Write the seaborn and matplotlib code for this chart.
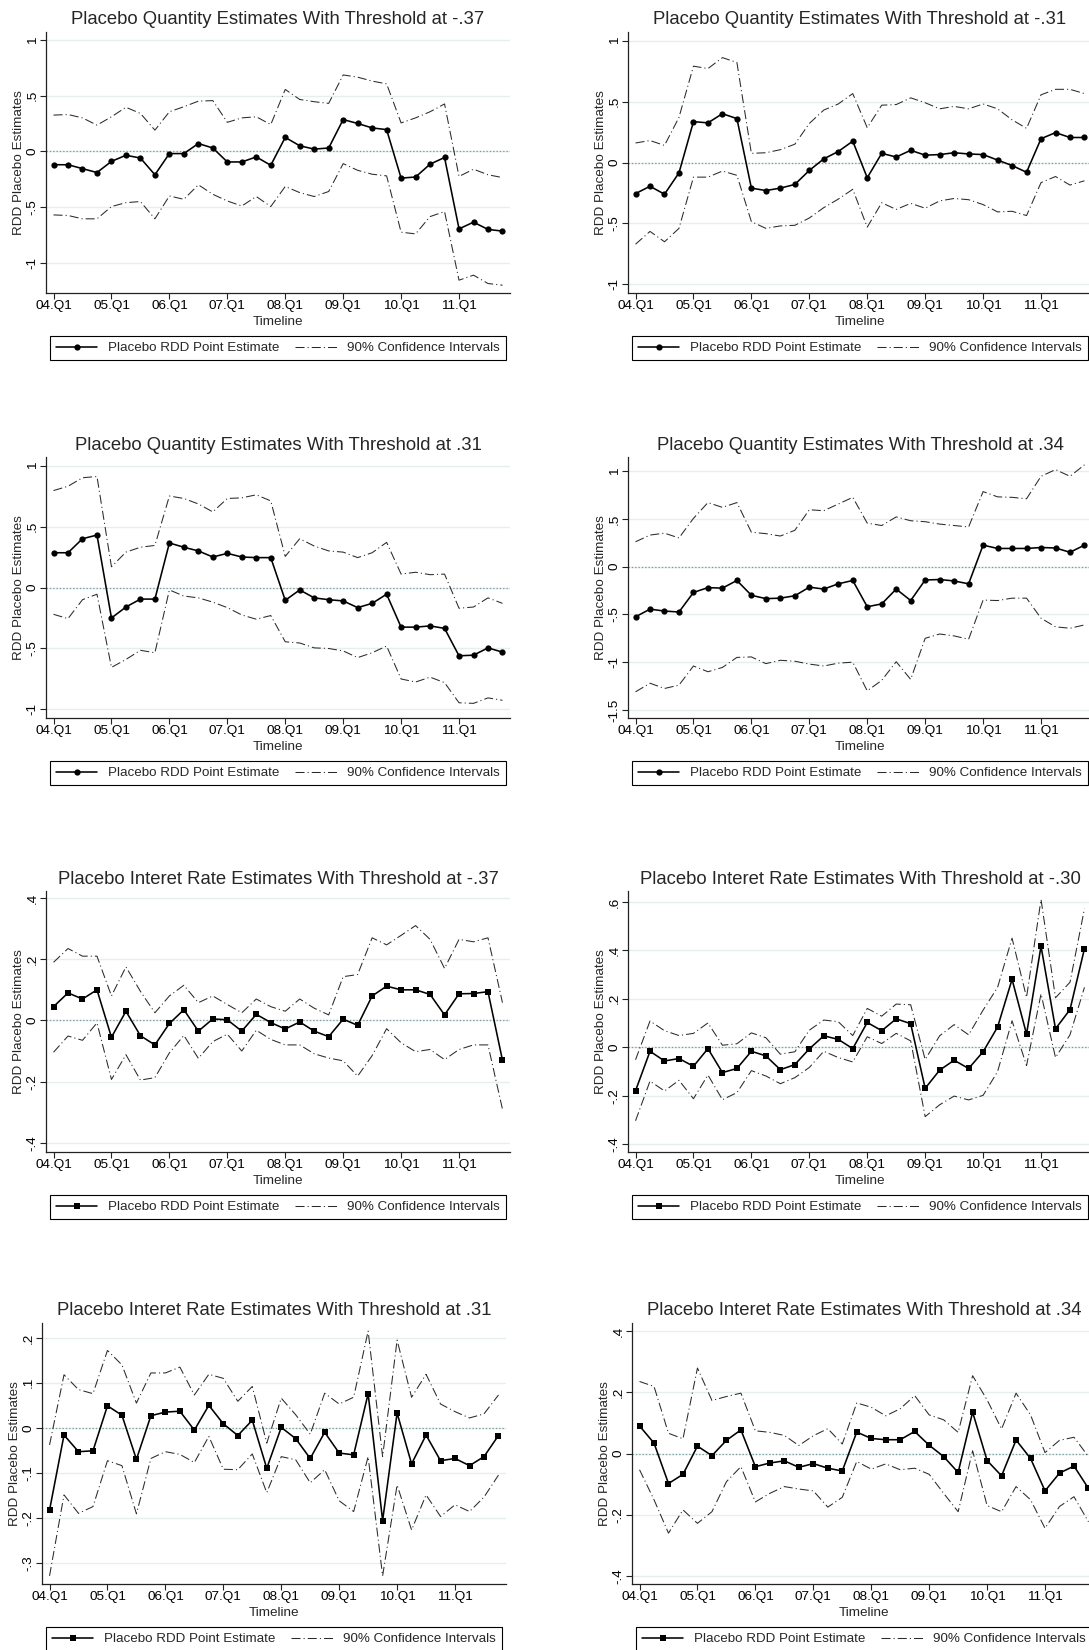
import numpy as np
import pandas as pd
import matplotlib
matplotlib.use("Agg")
import matplotlib.pyplot as plt
from matplotlib.lines import Line2D
import seaborn as sns

# ---------------------------------------------------------------------------
# Data: quarterly placebo RDD estimates, 2004Q1 - 2011Q4 (32 quarters)
# ---------------------------------------------------------------------------
year_tick_labels = ["04.Q1", "05.Q1", "06.Q1", "07.Q1", "08.Q1", "09.Q1", "10.Q1", "11.Q1"]

# Quantity, threshold -.37
qty_m37_est = [-0.12, -0.12, -0.155, -0.19, -0.09, -0.035, -0.06, -0.21, -0.02, -0.02, 0.07, 0.03,
               -0.095, -0.095, -0.05, -0.125, 0.125, 0.05, 0.02, 0.03, 0.285, 0.25, 0.21, 0.195,
               -0.24, -0.23, -0.115, -0.055, -0.695, -0.635, -0.70, -0.715]
qty_m37_hi = [0.325, 0.33, 0.30, 0.235, 0.31, 0.395, 0.34, 0.19, 0.355, 0.40, 0.45, 0.455,
              0.26, 0.30, 0.31, 0.24, 0.555, 0.465, 0.445, 0.43, 0.685, 0.665, 0.63, 0.605,
              0.255, 0.30, 0.355, 0.425, -0.225, -0.16, -0.21, -0.235]
qty_m37_lo = [-0.57, -0.575, -0.605, -0.605, -0.495, -0.46, -0.45, -0.605, -0.40, -0.43, -0.30, -0.385,
              -0.445, -0.49, -0.405, -0.495, -0.315, -0.37, -0.405, -0.36, -0.11, -0.17, -0.205, -0.22,
              -0.725, -0.74, -0.585, -0.54, -1.155, -1.11, -1.185, -1.20]

# Quantity, threshold -.31
qty_m31_est = [-0.255, -0.195, -0.26, -0.085, 0.335, 0.325, 0.40, 0.36, -0.21, -0.23, -0.21, -0.18,
               -0.065, 0.03, 0.09, 0.175, -0.125, 0.075, 0.045, 0.10, 0.06, 0.065, 0.08, 0.07,
               0.065, 0.02, -0.025, -0.08, 0.195, 0.245, 0.205, 0.205]
qty_m31_hi = [0.16, 0.18, 0.14, 0.37, 0.79, 0.77, 0.86, 0.82, 0.075, 0.08, 0.105, 0.15,
              0.32, 0.43, 0.48, 0.565, 0.285, 0.47, 0.475, 0.53, 0.49, 0.44, 0.46, 0.44,
              0.48, 0.44, 0.35, 0.28, 0.555, 0.60, 0.60, 0.565]
qty_m31_lo = [-0.67, -0.565, -0.65, -0.54, -0.12, -0.12, -0.07, -0.105, -0.485, -0.54, -0.52, -0.515,
              -0.455, -0.37, -0.30, -0.22, -0.53, -0.33, -0.385, -0.335, -0.375, -0.315, -0.295, -0.305,
              -0.345, -0.405, -0.40, -0.435, -0.165, -0.115, -0.185, -0.15]

# Quantity, threshold .31
qty_p31_est = [0.285, 0.285, 0.40, 0.43, -0.25, -0.16, -0.095, -0.095, 0.365, 0.33, 0.30, 0.25,
               0.28, 0.25, 0.245, 0.245, -0.105, -0.02, -0.085, -0.10, -0.11, -0.165, -0.13, -0.055,
               -0.325, -0.325, -0.315, -0.335, -0.56, -0.555, -0.495, -0.53]
qty_p31_hi = [0.795, 0.83, 0.90, 0.91, 0.17, 0.29, 0.33, 0.345, 0.75, 0.73, 0.685, 0.62,
              0.73, 0.735, 0.76, 0.71, 0.255, 0.40, 0.34, 0.30, 0.29, 0.245, 0.285, 0.37,
              0.11, 0.125, 0.105, 0.11, -0.17, -0.16, -0.085, -0.13]
qty_p31_lo = [-0.22, -0.255, -0.10, -0.055, -0.655, -0.59, -0.515, -0.535, -0.02, -0.07, -0.085, -0.12,
              -0.165, -0.225, -0.26, -0.23, -0.445, -0.455, -0.495, -0.50, -0.52, -0.575, -0.535, -0.48,
              -0.75, -0.775, -0.735, -0.78, -0.945, -0.95, -0.905, -0.925]

# Quantity, threshold .34
qty_p34_est = [-0.525, -0.445, -0.465, -0.475, -0.27, -0.22, -0.225, -0.145, -0.30, -0.335, -0.33, -0.305,
               -0.215, -0.235, -0.18, -0.145, -0.42, -0.39, -0.235, -0.355, -0.14, -0.135, -0.15, -0.18,
               0.225, 0.19, 0.19, 0.19, 0.20, 0.195, 0.15, 0.225]
qty_p34_hi = [0.26, 0.33, 0.35, 0.30, 0.505, 0.67, 0.62, 0.67, 0.36, 0.345, 0.32, 0.38,
              0.595, 0.585, 0.655, 0.725, 0.455, 0.43, 0.52, 0.48, 0.47, 0.445, 0.43, 0.415,
              0.785, 0.73, 0.725, 0.71, 0.945, 1.015, 0.945, 1.065]
qty_p34_lo = [-1.31, -1.22, -1.275, -1.24, -1.04, -1.10, -1.055, -0.95, -0.945, -1.015, -0.98, -0.99,
              -1.02, -1.04, -1.01, -1.00, -1.30, -1.19, -0.995, -1.18, -0.75, -0.705, -0.725, -0.76,
              -0.35, -0.355, -0.33, -0.33, -0.54, -0.63, -0.645, -0.61]

# Interest rate, threshold -.37
rate_m37_est = [0.045, 0.09, 0.07, 0.10, -0.055, 0.03, -0.05, -0.08, -0.01, 0.035, -0.035, 0.005,
                0.002, -0.035, 0.02, -0.007, -0.028, -0.005, -0.035, -0.053, 0.004, -0.016, 0.08, 0.112,
                0.10, 0.10, 0.085, 0.018, 0.087, 0.088, 0.094, -0.13]
rate_m37_hi = [0.19, 0.235, 0.21, 0.21, 0.08, 0.175, 0.095, 0.025, 0.08, 0.115, 0.058, 0.08,
               0.052, 0.025, 0.07, 0.045, 0.03, 0.07, 0.04, 0.018, 0.143, 0.15, 0.27, 0.247,
               0.278, 0.31, 0.265, 0.17, 0.265, 0.257, 0.27, 0.058]
rate_m37_lo = [-0.104, -0.051, -0.065, -0.008, -0.193, -0.112, -0.195, -0.187, -0.106, -0.049, -0.124, -0.069,
               -0.045, -0.10, -0.032, -0.062, -0.08, -0.08, -0.109, -0.123, -0.132, -0.182, -0.115, -0.027,
               -0.073, -0.102, -0.095, -0.128, -0.095, -0.08, -0.08, -0.29]

# Interest rate, threshold -.30
rate_m30_est = [-0.18, -0.017, -0.057, -0.047, -0.079, -0.006, -0.105, -0.088, -0.017, -0.036, -0.093, -0.072,
                -0.007, 0.047, 0.032, -0.006, 0.102, 0.068, 0.117, 0.097, -0.17, -0.095, -0.054, -0.088,
                -0.019, 0.083, 0.28, 0.054, 0.417, 0.076, 0.155, 0.407]
rate_m30_hi = [-0.052, 0.108, 0.068, 0.048, 0.057, 0.10, 0.008, 0.014, 0.059, 0.039, -0.029, -0.019,
               0.07, 0.112, 0.105, 0.048, 0.16, 0.128, 0.178, 0.175, -0.051, 0.047, 0.093, 0.051,
               0.153, 0.247, 0.45, 0.206, 0.61, 0.204, 0.268, 0.572]
rate_m30_lo = [-0.304, -0.14, -0.181, -0.137, -0.213, -0.115, -0.217, -0.188, -0.097, -0.119, -0.151, -0.126,
               -0.084, -0.017, -0.043, -0.061, 0.043, 0.015, 0.057, 0.026, -0.287, -0.238, -0.202, -0.218,
               -0.199, -0.101, 0.109, -0.076, 0.22, -0.043, 0.051, 0.247]

# Interest rate, threshold .31
rate_p31_est = [-0.183, -0.016, -0.053, -0.051, 0.049, 0.028, -0.070, 0.027, 0.035, 0.037, -0.005, 0.050,
                0.009, -0.017, 0.017, -0.090, 0.001, -0.024, -0.068, -0.010, -0.056, -0.060, 0.076, -0.206,
                0.033, -0.080, -0.016, -0.073, -0.068, -0.084, -0.064, -0.017]
rate_p31_hi = [-0.038, 0.118, 0.085, 0.076, 0.172, 0.14, 0.055, 0.122, 0.122, 0.135, 0.073, 0.119,
               0.11, 0.059, 0.092, -0.034, 0.066, 0.029, -0.014, 0.077, 0.053, 0.068, 0.215, -0.064,
               0.195, 0.068, 0.119, 0.053, 0.036, 0.022, 0.031, 0.073]
rate_p31_lo = [-0.329, -0.149, -0.19, -0.175, -0.073, -0.084, -0.191, -0.068, -0.053, -0.059, -0.077, -0.019,
               -0.092, -0.093, -0.058, -0.144, -0.064, -0.071, -0.122, -0.093, -0.162, -0.186, -0.064, -0.329,
               -0.127, -0.227, -0.149, -0.197, -0.171, -0.186, -0.154, -0.105]

# Interest rate, threshold .34
rate_p34_est = [0.09, 0.034, -0.098, -0.068, 0.024, -0.007, 0.043, 0.077, -0.043, -0.031, -0.024, -0.045,
                -0.033, -0.048, -0.057, 0.07, 0.049, 0.045, 0.045, 0.072, 0.027, -0.01, -0.062, 0.135,
                -0.023, -0.073, 0.044, -0.016, -0.122, -0.064, -0.041, -0.114]
rate_p34_hi = [0.235, 0.219, 0.066, 0.048, 0.279, 0.173, 0.186, 0.197, 0.074, 0.069, 0.059, 0.026,
               0.058, 0.081, 0.031, 0.165, 0.151, 0.123, 0.146, 0.189, 0.126, 0.11, 0.069, 0.254,
               0.175, 0.08, 0.197, 0.126, 0.003, 0.043, 0.053, -0.01]
rate_p34_lo = [-0.053, -0.151, -0.26, -0.184, -0.228, -0.19, -0.092, -0.043, -0.158, -0.13, -0.108, -0.116,
               -0.122, -0.175, -0.143, -0.026, -0.051, -0.034, -0.053, -0.048, -0.068, -0.13, -0.19, 0.009,
               -0.17, -0.19, -0.108, -0.151, -0.244, -0.173, -0.141, -0.223]

# ---------------------------------------------------------------------------
# Styling
# ---------------------------------------------------------------------------
sns.set_theme(style="white")
plt.rcParams["font.family"] = ["Liberation Sans", "DejaVu Sans"]
plt.rcParams["lines.scale_dashes"] = False

W, H, DPI = 1089, 1650, 100
AX_W, AX_H = 464, 261
GRID = "#e6efef"
ZERO = "#7f9c9c"
CI_COLOR = "#2a2a2a"
CI_DASH = (0, (6.5, 2.2, 0.8, 2.2))
TITLE_FS, LABEL_FS, TICK_FS, LEG_FS = 13.3, 9.7, 9.7, 9.6

row_tops = [32, 457, 891, 1323]
title_y = [17, 443, 877, 1308]

panels = [
    dict(title="Placebo Quantity Estimates With Threshold at -.37", est=qty_m37_est, lo=qty_m37_lo, hi=qty_m37_hi,
         marker="o", ylim=(-1.27, 1.07), yticks=[-1, -0.5, 0, 0.5, 1], ylabels=["-1", "-.5", "0", ".5", "1"],
         left=46, row=0),
    dict(title="Placebo Quantity Estimates With Threshold at -.31", est=qty_m31_est, lo=qty_m31_lo, hi=qty_m31_hi,
         marker="o", ylim=(-1.07, 1.07), yticks=[-1, -0.5, 0, 0.5, 1], ylabels=["-1", "-.5", "0", ".5", "1"],
         left=628, row=0),
    dict(title="Placebo Quantity Estimates With Threshold at .31", est=qty_p31_est, lo=qty_p31_lo, hi=qty_p31_hi,
         marker="o", ylim=(-1.07, 1.07), yticks=[-1, -0.5, 0, 0.5, 1], ylabels=["-1", "-.5", "0", ".5", "1"],
         left=46, row=1),
    dict(title="Placebo Quantity Estimates With Threshold at .34", est=qty_p34_est, lo=qty_p34_lo, hi=qty_p34_hi,
         marker="o", ylim=(-1.584, 1.147), yticks=[-1.5, -1, -0.5, 0, 0.5, 1],
         ylabels=["-1.5", "-1", "-.5", "0", ".5", "1"], left=628, row=1),
    dict(title="Placebo Interet Rate Estimates With Threshold at -.37", est=rate_m37_est, lo=rate_m37_lo, hi=rate_m37_hi,
         marker="s", ylim=(-0.43, 0.423), yticks=[-0.4, -0.2, 0, 0.2, 0.4], ylabels=["-.4", "-.2", "0", ".2", ".4"],
         left=46, row=2),
    dict(title="Placebo Interet Rate Estimates With Threshold at -.30", est=rate_m30_est, lo=rate_m30_lo, hi=rate_m30_hi,
         marker="s", ylim=(-0.433, 0.645), yticks=[-0.4, -0.2, 0, 0.2, 0.4, 0.6],
         ylabels=["-.4", "-.2", "0", ".2", ".4", ".6"], left=628, row=2),
    dict(title="Placebo Interet Rate Estimates With Threshold at .31", est=rate_p31_est, lo=rate_p31_lo, hi=rate_p31_hi,
         marker="s", ylim=(-0.347, 0.233), yticks=[-0.3, -0.2, -0.1, 0, 0.1, 0.2],
         ylabels=["-.3", "-.2", "-.1", "0", ".1", ".2"], left=42, row=3),
    dict(title="Placebo Interet Rate Estimates With Threshold at .34", est=rate_p34_est, lo=rate_p34_lo, hi=rate_p34_hi,
         marker="s", ylim=(-0.426, 0.426), yticks=[-0.4, -0.2, 0, 0.2, 0.4], ylabels=["-.4", "-.2", "0", ".2", ".4"],
         left=632, row=3),
]

fig = plt.figure(figsize=(W / DPI, H / DPI), dpi=DPI)
fig.patch.set_facecolor("white")

for p in panels:
    top = row_tops[p["row"]]
    left = p["left"]
    ax = fig.add_axes([left / W, 1 - (top + AX_H) / H, AX_W / W, AX_H / H])
    ax.set_facecolor("white")

    df = pd.DataFrame({"quarter": np.arange(len(p["est"])), "est": p["est"], "lo": p["lo"], "hi": p["hi"]})

    for yt in p["yticks"]:
        ax.axhline(yt, color=GRID, lw=1.0, zorder=0)
    ax.axhline(0, color=ZERO, lw=0.9, ls=(0, (1.0, 1.4)), zorder=1)

    sns.lineplot(data=df, x="quarter", y="hi", ax=ax, color=CI_COLOR, lw=0.75, linestyle=CI_DASH,
                 legend=False, zorder=2)
    sns.lineplot(data=df, x="quarter", y="lo", ax=ax, color=CI_COLOR, lw=0.75, linestyle=CI_DASH,
                 legend=False, zorder=2)
    sns.lineplot(data=df, x="quarter", y="est", ax=ax, color="black", lw=1.15, marker=p["marker"],
                 markersize=4.5, markeredgewidth=0, markerfacecolor="black", legend=False, zorder=3)

    ax.set_xlim(-0.52, 31.52)
    ax.set_ylim(*p["ylim"])
    ax.set_xticks(np.arange(0, 32, 4))
    ax.set_xticklabels(year_tick_labels, fontsize=TICK_FS)
    ax.set_yticks(p["yticks"])
    ax.set_yticklabels(p["ylabels"], fontsize=TICK_FS, rotation=90, va="center")
    ax.tick_params(axis="both", which="major", direction="out", length=4.2, width=0.8,
                   color="#222222", labelcolor="black", pad=1.0,
                   left=True, bottom=True)
    ax.grid(False)
    for side in ("top", "right"):
        ax.spines[side].set_visible(False)
    for side in ("left", "bottom"):
        ax.spines[side].set_color("#222222")
        ax.spines[side].set_linewidth(0.9)

    ax.set_xlabel("Timeline", fontsize=LABEL_FS, va="baseline")
    ax.xaxis.set_label_coords(0.5, -32.4 / AX_H)
    ax.set_ylabel("RDD Placebo Estimates", fontsize=LABEL_FS, va="baseline")
    ax.yaxis.set_label_coords(-24.1 / AX_W, 0.5)

    title_baseline = 1 + (top - (title_y[p["row"]] + 6.7)) / AX_H
    ax.set_title(p["title"], fontsize=TITLE_FS, va="baseline", y=title_baseline, pad=0)

    handles = [
        Line2D([], [], color="black", lw=1.15, marker=p["marker"], markersize=4.5, markeredgewidth=0),
        Line2D([], [], color=CI_COLOR, lw=0.75, linestyle=CI_DASH),
    ]
    leg_top = top + AX_H + 43
    leg_left = left + 4
    leg = ax.legend(handles, ["Placebo RDD Point Estimate", "90% Confidence Intervals"],
                    loc="upper left", ncol=2, mode="expand",
                    bbox_to_anchor=(leg_left / W, 1 - leg_top / H, 456 / W, 0.0),
                    bbox_transform=fig.transFigure, fontsize=LEG_FS, frameon=True, fancybox=False,
                    edgecolor="black", framealpha=1, handlelength=3.1, handletextpad=0.8,
                    borderpad=0.45, borderaxespad=0, columnspacing=1.0)
    leg.get_frame().set_linewidth(0.8)

fig.savefig("out.png", dpi=DPI, facecolor="white")
